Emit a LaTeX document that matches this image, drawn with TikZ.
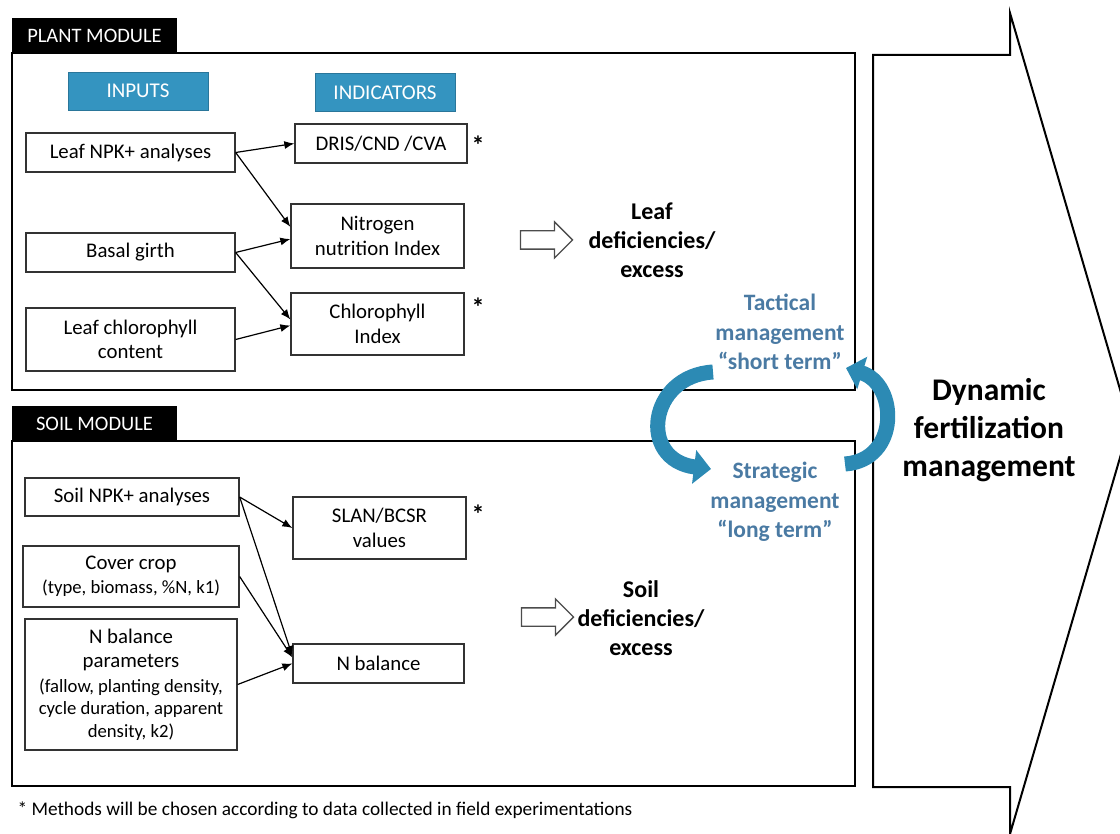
\documentclass[tikz,border=0pt]{standalone}
\usepackage{fontspec}
\setmainfont{Carlito}
\usetikzlibrary{shapes.arrows, arrows.meta, positioning}

\definecolor{headblue}{RGB}{52,148,192}
\definecolor{cycleblue}{RGB}{44,138,180}
\definecolor{termblue}{RGB}{74,122,163}

\newcommand{\smalltxt}{\fontsize{18.7}{22}\selectfont}

\tikzstyle{module} = [rectangle, draw=black, line width=2pt, inner sep=0pt]
\tikzstyle{modtag} = [rectangle, fill=black, text=white, minimum width=165pt, minimum height=35pt, font=\fontsize{20.5}{24}\selectfont]
\tikzstyle{header} = [rectangle, fill=headblue, draw=headblue!80!black, text=white, minimum width=140pt, minimum height=38pt, font=\fontsize{21}{25}\selectfont]
\tikzstyle{process} = [rectangle, draw=black!80, line width=1.3pt, align=center, inner sep=1pt, font=\fontsize{20.8}{24.5}\selectfont]
\tikzstyle{arrow} = [line width=1.2pt, -{Latex[length=10pt,width=8pt]}]
\tikzstyle{hollow} = [single arrow, draw=black!70, line width=1.3pt, minimum height=52pt, text height=17pt, text depth=0pt, single arrow head extend=9pt, inner sep=0pt]
\tikzstyle{result} = [align=center, font=\bfseries\fontsize{24}{29}\selectfont]
\tikzstyle{term} = [align=center, text=termblue, font=\bfseries\fontsize{23.5}{29.5}\selectfont]
\tikzstyle{cyclearrow} = [cycleblue, line width=15pt, -{Triangle[width=33pt,length=17pt]}]
\tikzstyle{note} = [font=\bfseries\fontsize{26}{26}\selectfont, inner sep=0pt]

\begin{document}
\begin{tikzpicture}[x=1pt, y=-1pt]
    \useasboundingbox (0,0) rectangle (1120,834);
    \clip (0,0) rectangle (1120,834);

    % big arrow on the right
    \draw [line width=2pt, fill=white] (873,55) -- (1010,55) -- (1010,13) -- (1130,423.5) -- (1010,834) -- (1010,787) -- (873,787) -- cycle;
    \node (dynamic) [align=center, font=\bfseries\fontsize{31.5}{38}\selectfont] at (989,430) {Dynamic\\fertilization\\management};

    % plant module
    \node (plant) [module, minimum width=843pt, minimum height=337pt] at (433.5,221.5) {};
    \node (planttag) [modtag] at (94.5,35.5) {PLANT MODULE};
    \node (inputs) [header] at (138,91) {INPUTS};
    \node (indicators) [header] at (385,92.5) {INDICATORS};

    \node (leafnpk) [process, minimum width=209pt, minimum height=39pt] at (130.5,152.5) {Leaf NPK+ analyses};
    \node (basal) [process, minimum width=209pt, minimum height=39pt] at (130.5,252.5) {Basal girth};
    \node (leafchl) [process, minimum width=209pt, minimum height=63pt] at (130.5,339.5) {Leaf chlorophyll\\content};

    \node (dris) [process, minimum width=172pt, minimum height=39pt] at (381,143.5) {DRIS/CND /CVA};
    \node (nni) [process, minimum width=173pt, minimum height=64pt] at (377.5,236) {Nitrogen\\nutrition Index};
    \node (chl) [process, minimum width=173pt, minimum height=62pt] at (377.5,324) {Chlorophyll\\Index};
    \node (drisnote) [note] at (478,145) {*};
    \node (chlnote) [note] at (478,307) {*};

    \draw [arrow] (leafnpk.east) -- (dris.west);
    \draw [arrow] (leafnpk.east) -- (nni.174);
    \draw [arrow] (basal.east) -- (nni.182);
    \draw [arrow] (basal.east) -- (chl.177);
    \draw [arrow] (leafchl.east) -- (chl.181);

    \node (leafarrow) [hollow] at (542,240) {};
    \node (leafdef) [result] at (652,240) {Leaf\\deficiencies/\\excess};

    % soil module
    \node (soil) [module, minimum width=843pt, minimum height=345pt] at (433.5,613.5) {};
    \node (soiltag) [modtag] at (94.5,423.5) {SOIL MODULE};

    \node (soilnpk) [process, minimum width=214pt, minimum height=38pt] at (132,497) {Soil NPK+ analyses};
    \node (cover) [process, minimum width=216pt, minimum height=61pt] at (131,576.5) {Cover crop\\\smalltxt(type, biomass, \%N, k1)};
    \node (nparams) [process, minimum width=212pt, minimum height=131pt] at (131,684.5) {N balance\\parameters\\\smalltxt(fallow, planting density,\\[-2pt]\smalltxt cycle duration, apparent\\[-2pt]\smalltxt density, k2)};

    \node (slan) [process, minimum width=173pt, minimum height=62pt] at (379.5,528) {SLAN/BCSR\\values};
    \node (nbal) [process, minimum width=171pt, minimum height=39pt] at (378.5,663.5) {N balance};
    \node (slannote) [note] at (478,514) {*};

    \draw [arrow] (soilnpk.east) -- (slan.west);
    \draw [arrow] (soilnpk.east) -- (nbal.175);
    \draw [arrow] (cover.east) -- (nbal.176);
    \draw [arrow] (nparams.east) -- (nbal.west);

    \node (soilarrow) [hollow] at (543,617) {};
    \node (soildef) [result] at (641,618) {Soil\\deficiencies/\\excess};

    % tactical / strategic cycle
    \node (tactical) [term] at (780,332) {Tactical\\management\\“short term”};
    \node (strategic) [term] at (775,502) {Strategic\\management\\“long term”};
    \coordinate (tacstart) at (713,372);
    \coordinate (stratend) at (711,469);
    \coordinate (stratstart) at (845,464);
    \coordinate (tacend) at (846,368);
    \draw [cyclearrow] (tacstart) .. controls (648,376) and (638,460) .. (stratend);
    \draw [cyclearrow] (stratstart) .. controls (900,460) and (898,384) .. (tacend);

    \node (footnote) [anchor=west, font=\fontsize{19.3}{23}\selectfont] at (14,810) {* Methods will be chosen according to data collected in field experimentations};

\end{tikzpicture}
\end{document}
